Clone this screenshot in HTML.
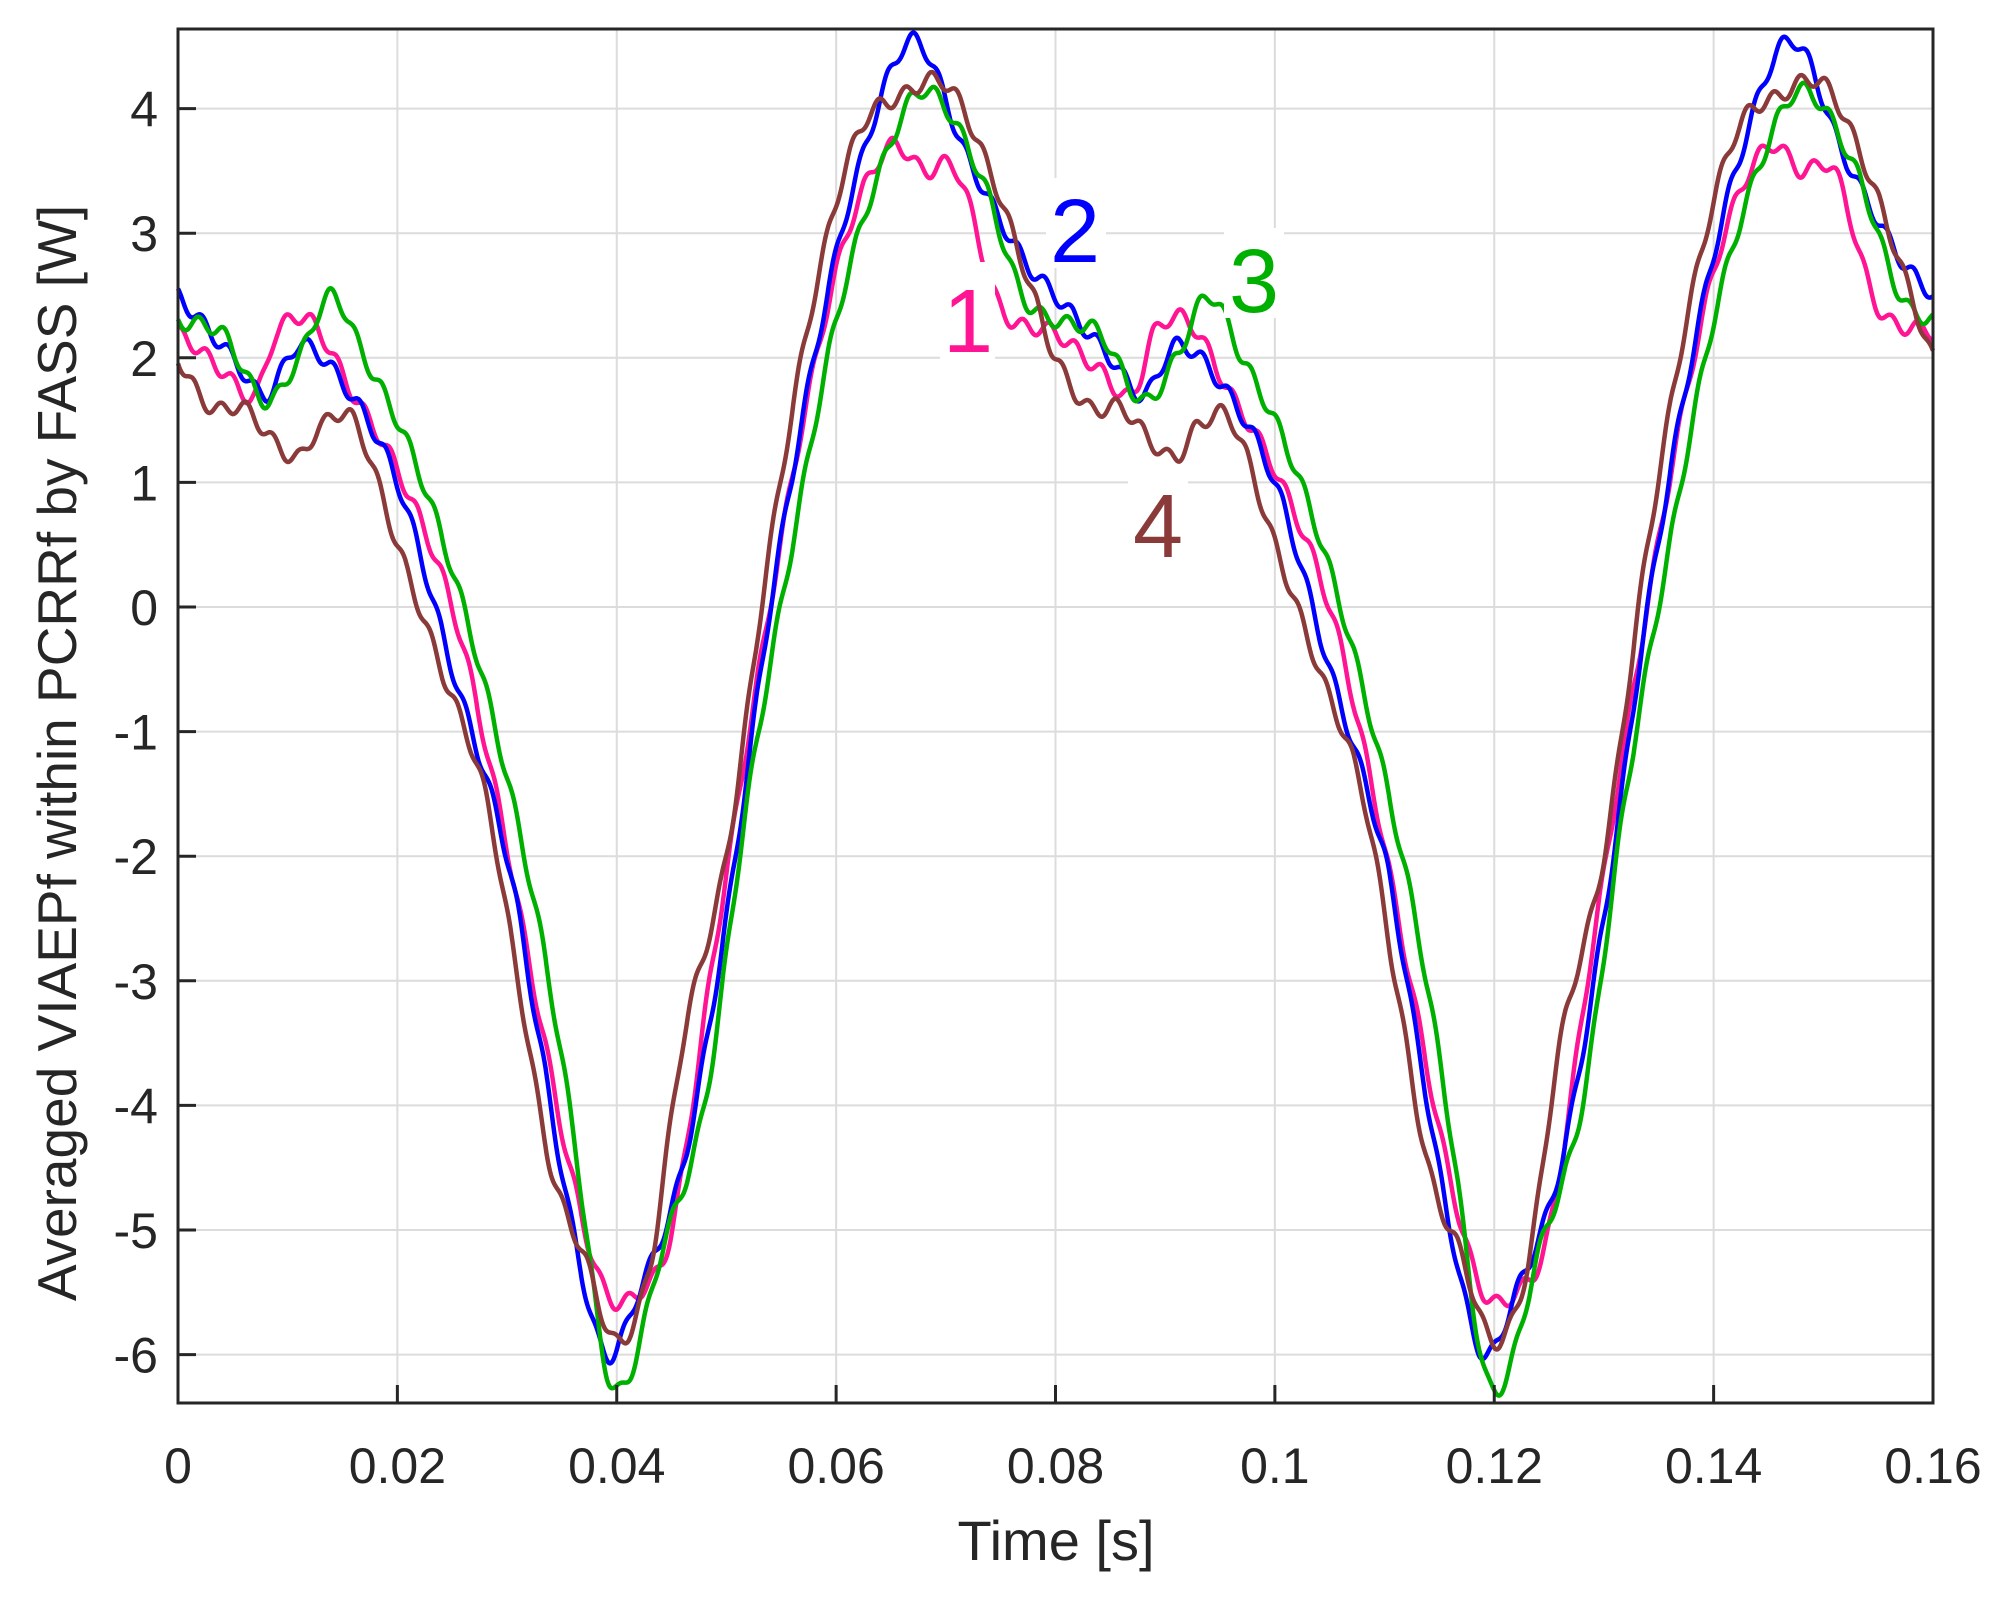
<!DOCTYPE html>
<html><head><meta charset="utf-8"><style>
html,body{margin:0;padding:0;background:#fff;}
svg text{font-family:"Liberation Sans",sans-serif;fill:#262626;}
</style></head><body>
<svg id="s" width="2004" height="1593" viewBox="0 0 2004 1593" xmlns="http://www.w3.org/2000/svg">
<rect width="2004" height="1593" fill="#fff"/>
<g id="grid" stroke="#dcdcdc" stroke-width="2"></g>
<g id="curves" fill="none" stroke-width="4.5" stroke-linejoin="round"></g>
<g id="axes" stroke="#262626" stroke-width="3" fill="none"></g>
<g id="labels" font-size="50"></g>
<text x="1056" y="1560" font-size="56" text-anchor="middle">Time [s]</text>
<text transform="translate(76,753) rotate(-90)" font-size="55" text-anchor="middle">Averaged VIAEPf within PCRRf by FASS [W]</text>
<g font-size="90" text-anchor="middle">
<rect x="940" y="262" width="55" height="100" fill="#fff"/>
<text x="968" y="352" style="fill:#ff1493">1</text>
<rect x="1046" y="178" width="60" height="90" fill="#fff"/>
<text x="1075" y="262" style="fill:#0000ff">2</text>
<rect x="1224" y="228" width="60" height="90" fill="#fff"/>
<text x="1254" y="312" style="fill:#00b000">3</text>
<rect x="1128" y="478" width="60" height="90" fill="#fff"/>
<text x="1158" y="557" style="fill:#8b3a3a">4</text>
</g>
</svg>
<script>
var L=178,R=1933,T=29,B=1403,y0=607,u=124.6;
function X(t){return L+(t/0.16)*(R-L);}
function Y(v){return y0-v*u;}
var ns="http://www.w3.org/2000/svg";
function el(p,tag,a,txt){var e=document.createElementNS(ns,tag);for(var k in a)e.setAttribute(k,a[k]);if(txt!=null)e.textContent=txt;document.getElementById(p).appendChild(e);return e;}
for(var i=0;i<=8;i++){var x=X(i*0.02);el("grid","line",{x1:x,y1:T,x2:x,y2:B});
 el("axes","line",{x1:x,y1:B,x2:x,y2:B-18});
 el("labels","text",{x:x,y:1483,"text-anchor":"middle"},["0","0.02","0.04","0.06","0.08","0.1","0.12","0.14","0.16"][i]);}
for(var v=-6;v<=4;v++){var y=Y(v);el("grid","line",{x1:L,y1:y,x2:R,y2:y});
 el("axes","line",{x1:L,y1:y,x2:L+18,y2:y});
 el("labels","text",{x:158,y:y+18,"text-anchor":"end"},String(v));}
el("axes","rect",{x:L,y:T,width:R-L,height:B-T});
var data={
"#ff1493":[[0,2.2],[.004,1.9],[.007,1.7],[.009,2.2],[.012,2.3],[.016,1.7],[.02,1.1],[.025,0],[.029,-1.5],[.033,-3.3],[.036,-4.6],[.039,-5.5],[.042,-5.5],[.045,-5.0],[.049,-2.7],[.053,-0.5],[.057,1.5],[.061,3.0],[.065,3.7],[.068,3.5],[.071,3.5],[.075,2.4],[.08,2.2]],
"#0000ff":[[0,2.5],[.005,2.0],[.008,1.7],[.011,2.1],[.015,1.8],[.02,1.0],[.025,-0.5],[.03,-2.0],[.033,-3.5],[.036,-5.0],[.039,-6.0],[.042,-5.5],[.046,-4.5],[.05,-2.5],[.054,0],[.058,2.0],[.062,3.5],[.067,4.55],[.072,3.6],[.077,2.8],[.08,2.5]],
"#00b000":[[0,2.3],[.004,2.2],[.008,1.65],[.011,2.0],[.014,2.5],[.017,2.0],[.021,1.3],[.025,0.3],[.029,-1.0],[.033,-2.6],[.036,-4.2],[.039,-6.1],[.041,-6.2],[.044,-5.2],[.048,-4.0],[.052,-1.5],[.056,0.5],[.06,2.3],[.064,3.5],[.068,4.15],[.073,3.5],[.077,2.5],[.08,2.3]],
"#8b3a3a":[[0,2.0],[.003,1.6],[.006,1.6],[.009,1.3],[.011,1.2],[.013,1.45],[.016,1.5],[.02,0.5],[.024,-0.5],[.028,-1.5],[.031,-3.0],[.034,-4.5],[.037,-5.2],[.04,-5.9],[.043,-5.3],[.046,-3.5],[.05,-2.0],[.054,0.5],[.058,2.5],[.062,3.8],[.066,4.1],[.07,4.2],[.074,3.5],[.078,2.5],[.08,2.0]]};
function interp(pts,t){t=t%0.08;var n=pts.length;
 for(var i=0;i<n-1;i++){if(t<=pts[i+1][0]){
  var p1=pts[i],p2=pts[i+1],p0=i>0?pts[i-1]:[pts[n-2][0]-.08,pts[n-2][1]],p3=i<n-2?pts[i+2]:[pts[1][0]+.08,pts[1][1]];
  var s=(t-p1[0])/(p2[0]-p1[0]),m1=(p2[1]-p0[1])/(p2[0]-p0[0])*(p2[0]-p1[0]),m2=(p3[1]-p1[1])/(p3[0]-p1[0])*(p2[0]-p1[0]);
  var s2=s*s,s3=s2*s;return (2*s3-3*s2+1)*p1[1]+(s3-2*s2+s)*m1+(-2*s3+3*s2)*p2[1]+(s3-s2)*m2;}}
 return pts[n-1][1];}
var k=0;
for(var c in data){var d="";k++;
 for(var j=0;j<=1600;j++){var t=j*0.0001;var v=interp(data[c],t)+0.06*Math.sin(2*Math.PI*t/0.0024+k);
  d+=(j?"L":"M")+X(t).toFixed(1)+" "+Y(v).toFixed(1);}
 el("curves","path",{d:d,stroke:c});}
</script>
</body></html>
